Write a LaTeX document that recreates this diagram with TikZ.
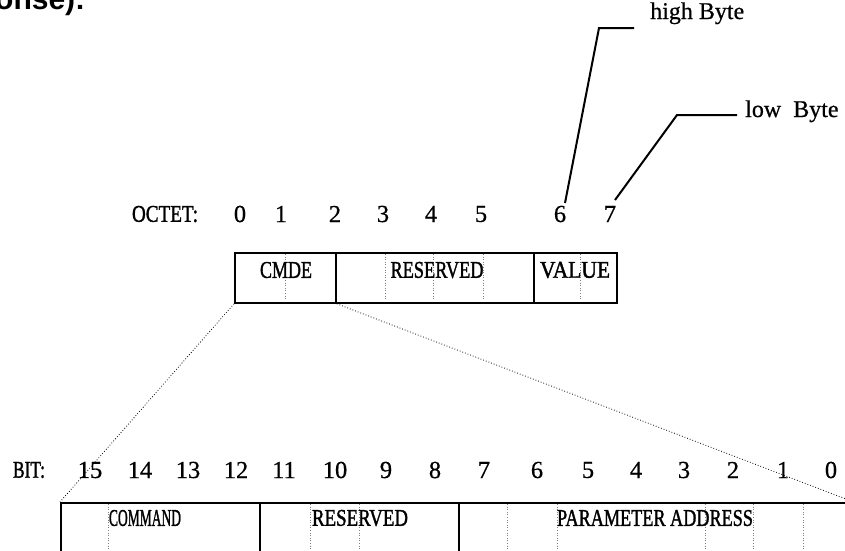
\documentclass[tikz,border=0pt]{standalone}
\usepackage{fontspec}
\usepackage{graphicx}
\setmainfont{Liberation Serif}
\newfontfamily\headsans{Liberation Sans}
\newfontfamily\capsfont[FakeBold=1.6]{Liberation Serif}
\newfontfamily\digitfont[FakeBold=0.6]{Liberation Serif}
\newcommand\sqz[2]{\resizebox{#1pt}{\height}{#2}}
\tikzset{
  fieldbox/.style={draw, line width=1.8pt, anchor=north west, inner sep=0pt},
  lbl/.style={font=\capsfont\fontsize{24}{28}\selectfont, inner sep=0pt},
  note/.style={font=\digitfont\fontsize{24}{28}\selectfont, inner sep=0pt},
  num/.style={font=\digitfont\fontsize{24.5}{28}\selectfont, inner sep=0pt},
  leader/.style={line width=2pt},
  proj/.style={dotted, line width=0.8pt},
  cell/.style={dotted, line width=0.6pt, gray}
}
\begin{document}
\begin{tikzpicture}[x=1pt,y=-1pt]
\useasboundingbox (0,0) rectangle (845,550);
\fill[white] (0,0) rectangle (845,550);

% clipped heading fragment
\node[font=\headsans\bfseries\fontsize{30}{32}\selectfont, anchor=base west, inner sep=0pt] (head) at (-5,9) {onse):};

% octet row
\node[lbl] (octet) at (165,214) {\sqz{66}{OCTET:}};
\foreach \n/\x in {0/240,1/281,2/335,3/383,4/431,5/481,6/560,7/610}
  \node[num] (o\n) at (\x,214) {\n};

% octet boxes
\node[fieldbox, minimum width=101pt, minimum height=50pt] (cmde) at (234,252) {};
\node[fieldbox, minimum width=198pt, minimum height=50pt] (ores) at (335,252) {};
\node[fieldbox, minimum width=83pt, minimum height=50pt] (value) at (533,252) {};
\foreach \x in {285,385,433,483,580}
  \draw[cell] (\x,254) -- (\x,300);
\node[lbl] (tcmde) at (286,270) {\sqz{52}{CMDE}};
\node[lbl] (tores) at (437,270) {\sqz{93}{RESERVED}};
\node[lbl] (tvalue) at (575,270) {\sqz{70}{VALUE}};

% leaders
\node[note, anchor=base west] (high) at (650,19) {high Byte};
\node[note, anchor=base west] (low) at (745,117) {low~~Byte};
\coordinate (h1) at (565,203);
\coordinate (h2) at (599,28);
\coordinate (h3) at (634,28);
\coordinate (l1) at (615,200);
\coordinate (l2) at (677,115);
\coordinate (l3) at (737,115);
\draw[leader] (h1) -- (h2) -- (h3);
\draw[leader] (l1) -- (l2) -- (l3);

% bit row
\node[lbl] (bitlbl) at (29,470) {\sqz{32}{BIT:}};
\foreach \n/\x in {15/90,14/140,13/188,12/236,11/284,10/335,9/386,8/435,7/484,6/537,5/588,4/636,3/684,2/733,1/783,0/831}
  \node[num] (b\n) at (\x,470) {\n};

% bit boxes
\node[fieldbox, minimum width=199pt, minimum height=70pt] (command) at (60,502) {};
\node[fieldbox, minimum width=199pt, minimum height=70pt] (bres) at (259,502) {};
\node[fieldbox, minimum width=394pt, minimum height=70pt] (param) at (458,502) {};
\foreach \x in {108,310,359,507,557,705,753,803}
  \draw[cell] (\x,504) -- (\x,550);
\node[lbl] (tcommand) at (145,518) {\sqz{72}{COMMAND}};
\node[lbl] (tbres) at (360,518) {\sqz{96}{RESERVED}};
\node[lbl] (tparam) at (655,518) {\sqz{196}{PARAMETER ADDRESS}};

% projection lines
\draw[proj] (cmde.south west) -- (command.north west);
\draw[proj] (cmde.south east) -- (param.north east);
\end{tikzpicture}
\end{document}
